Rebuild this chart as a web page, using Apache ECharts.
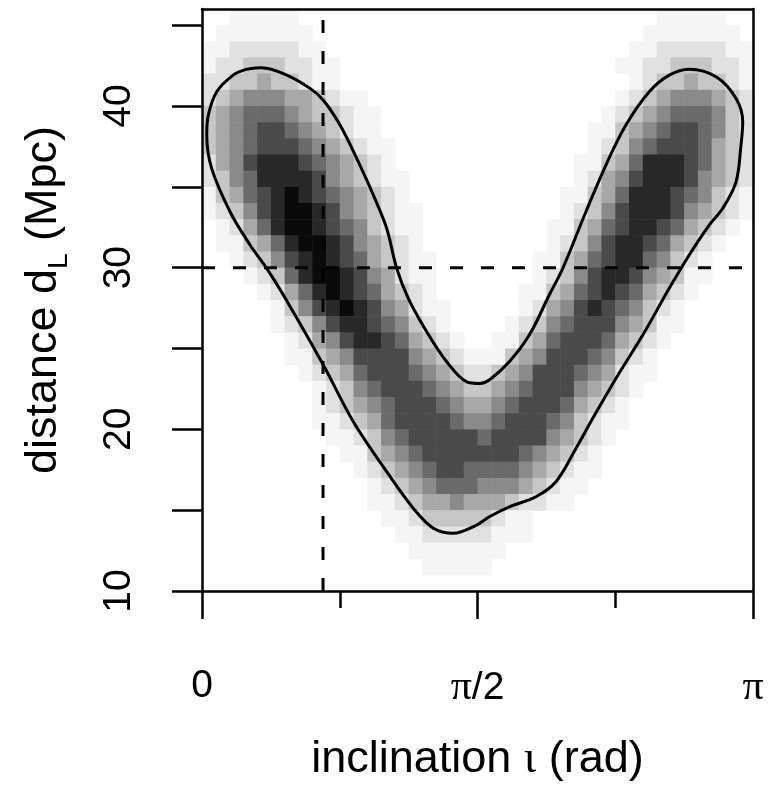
<!DOCTYPE html>
<html>
<head>
<meta charset="utf-8">
<script src="https://cdn.jsdelivr.net/npm/echarts@6/dist/echarts.min.js"></script>
<style>
html,body{margin:0;padding:0;background:#fff;}
#c{width:768px;height:788px;}
</style>
</head>
<body>
<div id="c"></div>
<script>
// ---------- data ----------
const xMin = 0, xMax = Math.PI;
const yMin = 10, yMax = 46;
const nCols = 40;          // density columns across [0, pi]
const yStep = 1;           // density rows are 1 Mpc tall
// density level (0 = white ... 9 = black), rows from top (45-46 Mpc) to bottom (10-11 Mpc)
const densityRows = [
  "0011111000 0000000000 0000000000 0001111100",
  "0111111100 0000000000 0000000000 0011111110",
  "1122222110 0000000000 0000000000 0112222211",
  "1223332211 0000000000 0000000000 1122333221",
  "2233433211 0000000000 0000000000 0123343321",
  "2345554432 1100000000 0000000000 1234555432",
  "3456665433 2110000000 0000000001 2345666532",
  "3456776543 2110000000 0000000011 3456776532",
  "3456777654 3211000000 0000000012 3567776432",
  "2457888765 4321000000 0000000113 4688876432",
  "2356888875 4321100000 0000000124 5788875432",
  "1346789876 5432100000 0000001134 6888765321",
  "1235789987 5432110000 0000001235 7888754321",
  "0124689987 6532110000 0000011346 7887643210",
  "0113468998 7543210000 0000012357 8876432100",
  "0012357898 7643211000 0000113467 8865321000",
  "0001236899 8754211000 0000123578 8754311000",
  "0000124689 8764321000 0001134678 7643210000",
  "0000013578 9875421100 0001245787 6532100000",
  "0000012357 8876532100 0012356777 5431100000",
  "0000001245 7887643210 0113467776 4321000000",
  "0000001134 5777754321 1134577765 3210000000",
  "0000000123 4677765432 2345777654 2110000000",
  "0000000012 3567776543 3456777543 2100000000",
  "0000000012 3456777654 4567776432 1000000000",
  "0000000011 2346777765 5677765321 1000000000",
  "0000000001 1235677777 6777754321 0000000000",
  "0000000000 1134567777 7776543210 0000000000",
  "0000000000 0123456776 6665432110 0000000000",
  "0000000000 0012345666 5554321100 0000000000",
  "0000000000 0011234454 4432211000 0000000000",
  "0000000000 0001123333 3211000000 0000000000",
  "0000000000 0000112222 2111000000 0000000000",
  "0000000000 0000011111 1100000000 0000000000",
  "0000000000 0000001111 1000000000 0000000000",
  "0000000000 0000000000 0000000000 0000000000"
];
// enclosing contour (inclination in rad, distance in Mpc)
const contourX = [0.255,0.340,0.483,0.616,0.692,0.787,0.882,0.977,1.053,1.110,1.176,1.281,1.395,1.509,1.585,1.638,1.752,1.866,1.980,2.057,2.189,2.303,2.417,2.550,2.664,2.778,2.931,3.045,3.083,3.073,3.045,2.969,2.892,2.778,2.664,2.513,2.360,2.228,2.132,2.018,1.904,1.752,1.638,1.566,1.433,1.319,1.205,1.053,0.863,0.692,0.464,0.369,0.274,0.160,0.055,0.027,0.036,0.084,0.178];
const contourY = [42.28,42.36,41.91,41.09,40.36,38.82,36.76,34.49,32.43,29.96,28.10,26.04,24.18,22.94,22.84,23.05,24.18,25.83,28.31,29.96,33.46,36.35,38.82,40.88,41.91,42.28,41.81,40.47,39.02,37.58,35.31,33.67,32.63,30.78,28.72,25.83,23.15,20.68,18.82,16.76,15.83,15.21,14.59,14.08,13.57,13.88,15.11,17.38,20.47,23.98,28.31,29.96,31.40,33.46,36.14,38.20,39.44,40.88,41.91];
const trueInclination = 0.69;
const trueDistance = 30;
const xTickMajor = [0, Math.PI / 2, Math.PI];
const xTickMajorLabels = ['0', '{p|\u03C0}/2', '{p|\u03C0}'];
const xTickMinor = [Math.PI / 4, 3 * Math.PI / 4];
const yTickValues = [10, 15, 20, 25, 30, 35, 40, 45];
const yLabelValues = [10, 20, 30, 40];
const xTitle = 'inclination {g|\u03B9} (rad)';
const yTitle = 'distance d{s|L} (Mpc)';

// ---------- style ----------
const grayLevels = [255, 245, 225, 198, 168, 138, 106, 74, 40, 10];
const FONT = '"Liberation Sans", Arial, Helvetica, sans-serif';
const SERIF = '"Liberation Serif", "DejaVu Serif", serif';
const LW = 2.5;

// ---------- build ----------
const cellW = (xMax - xMin) / nCols;
const cells = [];
densityRows.forEach(function (row, r) {
  const s = row.replace(/\s+/g, '');
  const y0 = yMax - yStep * (r + 1);
  for (let j = 0; j < s.length; j++) {
    const lv = +s[j];
    if (lv > 0) cells.push([xMin + j * cellW, y0, lv]);
  }
});
const contourData = contourX.map(function (x, i) { return [x, contourY[i]]; });
contourData.push([contourX[0], contourY[0]]);

const chart = echarts.init(document.getElementById('c'), null, {renderer: 'canvas', width: 768, height: 788});
const axisLineStyle = {color: '#000', width: LW};

const option = {
  animation: false,
  backgroundColor: '#fff',
  grid: {left: 202, right: 15, top: 9, bottom: 197, show: false},
  xAxis: [
    {
      type: 'value', min: xMin, max: xMax, position: 'bottom', z: 5,
      axisLine: {show: true, onZero: false, lineStyle: axisLineStyle},
      axisTick: {show: true, customValues: xTickMajor, length: 28, lineStyle: axisLineStyle},
      axisLabel: {
        show: true, customValues: xTickMajor, margin: 76, fontSize: 39, fontFamily: FONT, color: '#000',
        formatter: function (v) {
          for (let i = 0; i < xTickMajor.length; i++) {
            if (Math.abs(v - xTickMajor[i]) < 1e-6) return xTickMajorLabels[i];
          }
          return '';
        },
        rich: {p: {fontFamily: SERIF, fontSize: 42, color: '#000'}}
      },
      splitLine: {show: false},
      name: xTitle, nameLocation: 'middle', nameGap: 146,
      nameTextStyle: {fontSize: 45, fontFamily: FONT, color: '#000',
        rich: {g: {fontFamily: SERIF, fontSize: 46, color: '#000'}}}
    },
    {
      type: 'value', min: xMin, max: xMax, position: 'bottom', z: 5,
      axisLine: {show: false, onZero: false},
      axisTick: {show: true, customValues: xTickMinor, length: 17, lineStyle: axisLineStyle},
      axisLabel: {show: false}, splitLine: {show: false}
    },
    {
      type: 'value', min: xMin, max: xMax, position: 'top', z: 5,
      axisLine: {show: true, onZero: false, lineStyle: axisLineStyle},
      axisTick: {show: false}, axisLabel: {show: false}, splitLine: {show: false}
    }
  ],
  yAxis: [
    {
      type: 'value', min: yMin, max: yMax, position: 'left', z: 5,
      axisLine: {show: true, onZero: false, lineStyle: axisLineStyle},
      axisTick: {show: true, customValues: yTickValues, length: 30, lineStyle: axisLineStyle},
      axisLabel: {show: true, customValues: yLabelValues, rotate: 90, margin: 63, fontSize: 39, fontFamily: FONT, color: '#000'},
      splitLine: {show: false},
      name: yTitle, nameLocation: 'middle', nameGap: 136, nameRotate: 90,
      nameTextStyle: {fontSize: 45, lineHeight: 45, fontFamily: FONT, color: '#000',
        rich: {s: {fontSize: 28, lineHeight: 28, fontFamily: FONT, color: '#000', padding: [32, 0, 0, 0]}}}
    },
    {
      type: 'value', min: yMin, max: yMax, position: 'right', z: 5,
      axisLine: {show: true, onZero: false, lineStyle: axisLineStyle},
      axisTick: {show: false}, axisLabel: {show: false}, splitLine: {show: false}
    }
  ],
  series: [
    {
      type: 'custom', xAxisIndex: 0, yAxisIndex: 0, z: 1, silent: true, clip: true,
      data: cells, encode: {x: 0, y: 1},
      renderItem: function (params, api) {
        const x0 = api.value(0), y0 = api.value(1), lv = api.value(2);
        const p0 = api.coord([x0, y0 + yStep]);
        const p1 = api.coord([x0 + cellW, y0]);
        const g = grayLevels[lv];
        return {
          type: 'rect',
          shape: {x: p0[0], y: p0[1], width: p1[0] - p0[0] + 0.6, height: p1[1] - p0[1] + 0.6},
          style: {fill: 'rgb(' + g + ',' + g + ',' + g + ')'}
        };
      }
    },
    {
      type: 'line', xAxisIndex: 0, yAxisIndex: 0, z: 3, silent: true,
      data: contourData, showSymbol: false, smooth: 0.35,
      lineStyle: {color: '#000', width: 3}
    },
    {
      type: 'line', xAxisIndex: 0, yAxisIndex: 0, z: 4, silent: true,
      data: [[trueInclination, yMin], [trueInclination, yMax]], showSymbol: false,
      lineStyle: {color: '#000', width: 3, type: [13, 18]}
    },
    {
      type: 'line', xAxisIndex: 0, yAxisIndex: 0, z: 4, silent: true,
      data: [[xMin, trueDistance], [xMax, trueDistance]], showSymbol: false,
      lineStyle: {color: '#000', width: 3, type: [13, 18]}
    }
  ]
};
chart.setOption(option);
</script>
</body>
</html>
